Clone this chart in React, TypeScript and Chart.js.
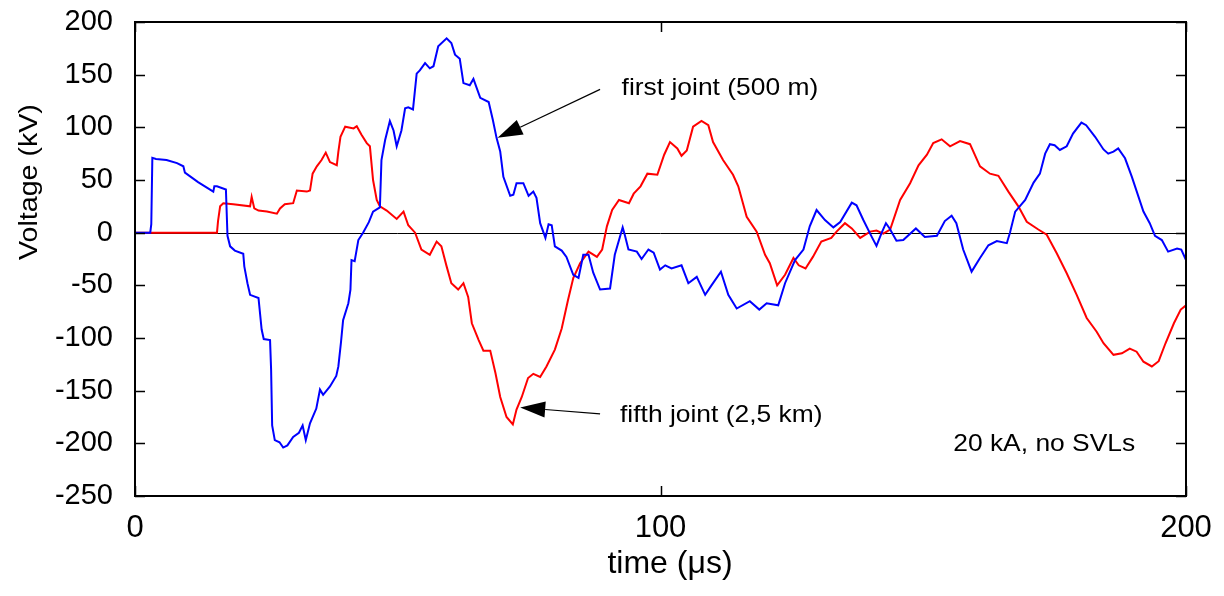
import React, { useEffect, useRef } from 'react';
import { Chart, registerables } from 'chart.js';

Chart.register(...registerables);

// time (µs) and voltage (kV) of the first joint (500 m)
const firstJointT = [0, 2.9, 3.1, 3.3, 4, 6, 8, 9.2, 9.5, 12, 14.9, 15.1, 15.6, 17.3, 17.6, 18.1, 19, 20.6, 20.8, 21.4, 21.9, 23.5, 24.1, 24.5, 25.7, 25.9, 26.1, 26.6, 27.5, 28.2, 29, 30.1, 31.2, 31.9, 32.5, 33.3, 34.5, 35.2, 35.8, 37.1, 38.3, 38.7, 39.2, 39.6, 40.6, 41, 41.2, 41.8, 42.5, 43.4, 44.5, 45.3, 46.6, 46.9, 47.6, 48.5, 49.2, 49.8, 50.7, 51.4, 52, 52.9, 53.6, 54.2, 55.2, 56.1, 56.8, 57.7, 59.3, 60.2, 60.9, 61.8, 62.5, 63.7, 64.4, 65.7, 67.3, 68.1, 68.8, 69.5, 70.1, 71.4, 72, 72.6, 73.9, 74.9, 75.8, 76.4, 77.1, 78.1, 78.7, 79.3, 79.9, 81.2, 82.1, 83.4, 84.4, 85.3, 86.3, 87.2, 88.5, 90.4, 91.3, 92.8, 93.2, 93.9, 95.5, 96.4, 97.7, 98.7, 99.9, 100.9, 102.1, 104, 105.3, 106.9, 108.5, 109.7, 111.5, 112.9, 114.5, 117, 118.8, 120.2, 122.4, 123.7, 125.6, 127.2, 128.4, 129.7, 131.3, 132.9, 134.2, 136.4, 137.3, 138.6, 140.2, 141.1, 142.1, 142.9, 143.6, 144.9, 146.2, 148.6, 150.3, 152.6, 154.1, 155.4, 156.3, 157.6, 159.2, 160.8, 162.4, 164, 165.9, 166.5, 167.5, 169.4, 171, 172.2, 173.2, 174.1, 175, 176, 177.3, 178.5, 180.1, 181, 182.7, 184.3, 185.2, 186.2, 187.1, 188.4, 189.7, 191.9, 193.1, 194.1, 195.4, 196.6, 198.3, 199.1, 200];
const firstJointV = [0, 0, 8, 71, 70, 69, 66, 63, 57, 48, 39, 44, 44, 41, -3, -13, -17, -20, -32, -48, -59, -62, -92, -101, -102, -130, -183, -197, -199, -204, -202, -194, -190, -183, -197, -181, -167, -149, -154, -146, -136, -127, -104, -83, -67, -54, -26, -27, -7, 0, 10, 20, 24, 69, 88, 106, 97, 82, 97, 118, 119, 117, 151, 154, 161, 156, 158, 177, 184.5, 180, 169, 165, 142, 140, 146, 128, 124, 107, 90, 77, 53, 35, 36, 47, 47, 35, 39, 33, 9, -5, 8, 7, -13, -17, -23, -40, -43, -21, -21, -38, -54, -53, -21, 5, -2, -16, -18, -25, -16, -19, -35, -31, -34, -31, -48, -42, -59, -50, -37, -59, -72, -65, -73, -67, -69, -48, -26, -16, 6, 21.5, 12, 5, 10, 28.5, 26, 12, -4, -12.6, 0, 9, 4, -7.6, -7, 4, -4, -3, 11, 16, 9, -16, -37, -24, -12, -8, -10, 0, 20, 31, 47.5, 56, 75, 84, 83, 78.5, 82, 94, 104.5, 102, 91, 79, 75, 77, 80, 70.6, 53, 20, 9, -3, -7, -18, -15, -16, -26];

// time (µs) and voltage (kV) of the fifth joint (2,5 km)
const fifthJointT = [0, 15.6, 15.8, 16.2, 16.8, 18.7, 21.9, 22.2, 22.7, 23.5, 25.1, 27, 27.6, 28.5, 30.1, 30.8, 32.7, 33.3, 33.8, 34.6, 35.5, 36.3, 37.1, 38.4, 38.7, 39.1, 40, 41.6, 42.2, 43.1, 44.1, 44.7, 45.3, 46, 46.6, 47.9, 49.8, 51.1, 52, 53.3, 54.5, 56.1, 57.4, 58.3, 59.3, 60.2, 61.5, 62.5, 63.4, 64.1, 65.4, 66.3, 67.6, 68.6, 69.5, 70.7, 71.9, 72.6, 73.6, 74.8, 75.8, 77.1, 78.3, 79.9, 81.2, 82.4, 83.4, 84.7, 86.3, 87.9, 88.9, 89.8, 90.8, 92.1, 94, 94.9, 96.2, 97.5, 99.4, 100.7, 101.8, 103.2, 104, 105, 106.2, 107.8, 109.1, 110, 111.9, 113.8, 114.8, 116.4, 118.3, 119.9, 120.8, 122.2, 123.7, 125.3, 126.3, 127.6, 129, 130.6, 132.5, 133.5, 135.1, 136.4, 138, 139.9, 141.1, 142.4, 143.7, 145.6, 147.5, 149.1, 150.7, 151.9, 153.5, 155.1, 157, 158.9, 160.8, 162.7, 164.3, 166.2, 168.1, 169.7, 171.9, 173.5, 175.4, 177.3, 179.2, 181.1, 183, 184.3, 186.2, 187.8, 189.3, 190.6, 191.9, 193.5, 194.8, 196.1, 197.7, 199, 200];
const fifthJointV = [0, 0, 11, 25, 28, 27, 25, 34, 23, 21, 20, 18, 23, 27, 28, 40, 39, 40, 56, 63, 69, 76, 67, 64, 77, 91, 100.6, 99, 101, 93, 85, 82, 50, 31, 25, 21, 13, 20, 7, 0, -16, -21, -8.5, -13, -32, -48, -54, -48, -61, -86, -102, -112, -112, -133.5, -156, -175, -182, -168, -156, -138, -134, -137, -127, -111, -91, -64, -43, -29, -18, -23, -16, 6, 21.5, 31, 28, 37, 44, 56, 55, 74, 86, 80, 73, 78, 100.6, 106, 102, 86, 69, 55, 44, 15, 1, -21, -29, -50, -40, -24, -31, -34, -23, -8.5, -5, 1, 9, 4, -5, 1, 2, -1, 3, 31, 47, 64, 74, 85, 88.6, 82, 87, 84, 63, 56, 54, 39, 25, 10.4, 3, -2, -19.6, -38.5, -59, -81, -94, -105, -116, -114.5, -110, -113, -122.5, -127, -122, -105, -86, -73, -69];

const yTickValues = [-250, -200, -150, -100, -50, 0, 50, 100, 150, 200];
const xTickValues = [0, 100, 200];

const xTitle = 'time (μs)';
const yTitle = 'Voltage (kV)';

// annotations: text anchors, arrow tails and tips, all in data units (t, v)
const labelFirst = 'first joint (500 m)';
const labelFirstAt = [92.6, 137];
const arrowFirstFrom = [88.5, 136];
const arrowFirstTo = [69.0, 90];
const labelFifth = 'fifth joint (2,5 km)';
const labelFifthAt = [92.3, -173];
const arrowFifthFrom = [88.5, -172];
const arrowFifthTo = [73.3, -166];
const noteText = '20 kA, no SVLs';
const noteAt = [155.7, -201];

const FONT = 'Arial, "Liberation Sans", Helvetica, sans-serif';

function toPoints(t: number[], v: number[]) {
  return t.map((tt, i) => ({ x: tt, y: v[i] }));
}

const decorPlugin = {
  id: 'decor',
  beforeDatasetsDraw(chart: any) {
    const { ctx, chartArea: a, scales } = chart;
    const y0 = Math.round(scales.y.getPixelForValue(0)) + 0.5;
    ctx.save();
    ctx.strokeStyle = '#000';
    ctx.lineWidth = 1;
    ctx.beginPath();
    ctx.moveTo(a.left, y0);
    ctx.lineTo(a.right, y0);
    ctx.stroke();
    ctx.restore();
  },
  afterDatasetsDraw(chart: any) {
    const { ctx, chartArea: a, scales } = chart;
    const xs = scales.x;
    const ys = scales.y;
    const px = (t: number) => xs.getPixelForValue(t);
    const py = (v: number) => ys.getPixelForValue(v);
    ctx.save();
    // frame
    ctx.strokeStyle = '#000';
    ctx.lineWidth = 2;
    ctx.strokeRect(a.left, a.top, a.right - a.left, a.bottom - a.top);
    // inward tick marks
    ctx.lineWidth = 1.5;
    ctx.beginPath();
    yTickValues.forEach((v) => {
      const yy = Math.round(py(v)) + 0.5;
      ctx.moveTo(a.left, yy);
      ctx.lineTo(a.left + 10, yy);
      ctx.moveTo(a.right, yy);
      ctx.lineTo(a.right - 10, yy);
    });
    xTickValues.forEach((t) => {
      const xx = Math.round(px(t)) + 0.5;
      ctx.moveTo(xx, a.bottom);
      ctx.lineTo(xx, a.bottom - 10);
      ctx.moveTo(xx, a.top);
      ctx.lineTo(xx, a.top + 10);
    });
    ctx.stroke();

    // arrows
    const arrow = (from: number[], to: number[]) => {
      const x1 = px(from[0]), y1 = py(from[1]);
      const x2 = px(to[0]), y2 = py(to[1]);
      const ang = Math.atan2(y2 - y1, x2 - x1);
      const len = 25, hw = 8;
      const bx = x2 - len * Math.cos(ang), by = y2 - len * Math.sin(ang);
      ctx.strokeStyle = '#000';
      ctx.lineWidth = 1.2;
      ctx.beginPath();
      ctx.moveTo(x1, y1);
      ctx.lineTo(bx, by);
      ctx.stroke();
      ctx.fillStyle = '#000';
      ctx.beginPath();
      ctx.moveTo(x2, y2);
      ctx.lineTo(bx + hw * Math.sin(ang), by - hw * Math.cos(ang));
      ctx.lineTo(bx - hw * Math.sin(ang), by + hw * Math.cos(ang));
      ctx.closePath();
      ctx.fill();
    };
    arrow(arrowFirstFrom, arrowFirstTo);
    arrow(arrowFifthFrom, arrowFifthTo);

    const label = (text: string, at: number[]) => {
      ctx.save();
      ctx.translate(px(at[0]), py(at[1]));
      ctx.scale(1.1, 1);
      ctx.font = `24px ${FONT}`;
      ctx.fillStyle = '#000';
      ctx.textAlign = 'left';
      ctx.textBaseline = 'middle';
      ctx.fillText(text, 0, 0);
      ctx.restore();
    };
    label(labelFirst, labelFirstAt);
    label(labelFifth, labelFifthAt);
    label(noteText, noteAt);
    ctx.restore();
  },
  afterDraw(chart: any) {
    const { ctx } = chart;
    ctx.save();
    ctx.fillStyle = '#000';
    ctx.textBaseline = 'middle';
    ctx.textAlign = 'center';
    ctx.font = `32px ${FONT}`;
    ctx.fillText(xTitle, 670, 564);
    ctx.translate(30, 182);
    ctx.rotate(-Math.PI / 2);
    ctx.scale(1.1, 1);
    ctx.font = `26px ${FONT}`;
    ctx.fillText(yTitle, 0, 0);
    ctx.restore();
  },
};

export default function App() {
  const ref = useRef<HTMLCanvasElement | null>(null);
  useEffect(() => {
    document.body.style.margin = '0';
    const canvas = ref.current;
    if (!canvas) return;
    const chart = new Chart(canvas, {
      type: 'line',
      data: {
        datasets: [
          {
            label: 'first joint (500 m)',
            data: toPoints(firstJointT, firstJointV),
            borderColor: '#0000ff',
            borderWidth: 2,
            pointRadius: 0,
            tension: 0,
            fill: false,
          },
          {
            label: 'fifth joint (2,5 km)',
            data: toPoints(fifthJointT, fifthJointV),
            borderColor: '#ff0000',
            borderWidth: 2,
            pointRadius: 0,
            tension: 0,
            fill: false,
          },
        ],
      },
      options: {
        animation: false,
        responsive: false,
        devicePixelRatio: 1,
        layout: { padding: { top: 22, right: 38, left: 0, bottom: 0 } },
        plugins: { legend: { display: false }, tooltip: { enabled: false } },
        scales: {
          x: {
            type: 'linear',
            min: 0,
            max: 200,
            afterFit: (s: any) => { s.height = 100; s.paddingLeft = 0; s.paddingRight = 0; },
            afterBuildTicks: (s: any) => { s.ticks = xTickValues.map((v) => ({ value: v })); },
            ticks: { color: '#000', padding: 14, maxRotation: 0, font: { size: 31, family: FONT } },
            grid: { display: false, drawTicks: false },
            border: { display: false },
          },
          y: {
            type: 'linear',
            min: -250,
            max: 200,
            afterFit: (s: any) => { s.width = 135; s.paddingTop = 0; s.paddingBottom = 0; },
            afterBuildTicks: (s: any) => { s.ticks = yTickValues.map((v) => ({ value: v })); },
            ticks: { color: '#000', padding: 22, font: { size: 29, family: FONT } },
            grid: { display: false, drawTicks: false },
            border: { display: false },
          },
        },
      },
      plugins: [decorPlugin],
    });
    return () => chart.destroy();
  }, []);
  return <canvas ref={ref} width={1224} height={596} style={{ display: 'block', width: 1224, height: 596 }} />;
}
